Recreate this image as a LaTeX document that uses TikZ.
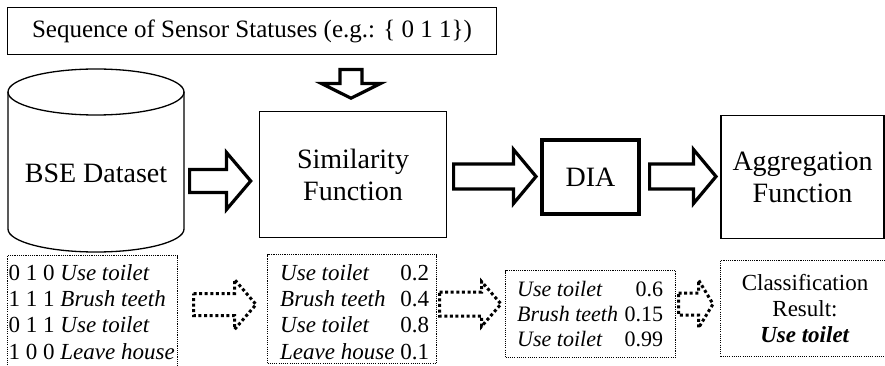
\documentclass[tikz,border=0pt]{standalone}
\usepackage{fontspec}
\setmainfont{Liberation Serif}
\newcommand{\barrR}[7]{% style, x0, xs, x1, c, hs, hh
  \draw[#1] (#2,#5-#6) -- (#3,#5-#6) -- (#3,#5-#7) -- (#4,#5) -- (#3,#5+#7) -- (#3,#5+#6) -- (#2,#5+#6) -- cycle;}
\begin{document}
\begin{tikzpicture}[x=1pt,y=-1pt,
  plain/.style={draw, line width=1.3pt, inner sep=0pt},
  thickbox/.style={draw, line width=4pt, inner sep=0pt},
  dotbox/.style={draw, line width=1.1pt, dash pattern=on 1.1pt off 1.1pt, inner sep=0pt},
  blockarr/.style={draw, line width=3.2pt, line join=miter, miter limit=10},
  dotarr/.style={draw, line width=3pt, dash pattern=on 3pt off 2.6pt},
  big/.style={font=\fontsize{28}{32}\selectfont, align=center},
  small/.style={inner sep=0pt, font=\fontsize{23}{26.3}\selectfont},
]
\useasboundingbox (0,0) rectangle (885,366);

% top box
\node[plain, minimum width=489pt, minimum height=47pt, font=\fontsize{25}{30}\selectfont] (seq) at (252,31) {Sequence of Sensor Statuses (e.g.: \{ 0 1 1\})};

% down arrow
\draw[blockarr] (351-11,69.6) -- (351+11,69.6) -- (351+11,83.5) -- (351+29.5,83.5) -- (351,98.2) -- (351-29.5,83.5) -- (351-11,83.5) -- cycle;

% cylinder
\draw[line width=1.3pt] (96,92) ellipse [x radius=88, y radius=23];
\draw[line width=1.3pt] (8,92) -- (8,229) arc[start angle=180, end angle=0, x radius=88, y radius=23] -- (184,92);
\node[big, inner sep=0pt] (bse) at (96,173) {BSE Dataset};

% main boxes
\node[plain, big, minimum width=186.7pt, minimum height=125.7pt] (sim) at (353,174.5) {Similarity\\Function};
\node[thickbox, big, minimum width=97pt, minimum height=74pt] (dia) at (590.5,177) {DIA};
\node[plain, big, minimum width=163pt, minimum height=123pt] (agg) at (802.5,177) {Aggregation\\Function};

% solid block arrows
\barrR{blockarr}{189.6}{226.5}{250.7}{181}{11.5}{28.5}
\barrR{blockarr}{453.6}{513.5}{536}{176.5}{12.5}{27}
\barrR{blockarr}{649.6}{693.5}{716}{176.5}{12.5}{27}

% dotted boxes
\node[dotbox, minimum width=170pt, minimum height=119pt] (b1) at (92.5,315) {};
\node[dotbox, minimum width=169pt, minimum height=109pt] (b2) at (352,309) {};
\node[dotbox, minimum width=170pt, minimum height=87pt] (b3) at (590.5,314) {};
\node[dotbox, minimum width=174pt, minimum height=96pt] (b4) at (807.5,308.5) {};

% dotted block arrows
\barrR{dotarr}{193.5}{234.5}{256}{304.5}{11}{25}
\barrR{dotarr}{439.5}{481.5}{501}{304}{12}{22.5}
\barrR{dotarr}{678.5}{698.5}{713}{304}{11}{24}

% texts in dotted boxes
\node[small, anchor=west] (t1) at (8.5,314.5) {\begin{tabular}{@{}l@{}}
0 1 0 \textit{Use toilet}\\
1 1 1 \textit{Brush teeth}\\
0 1 1 \textit{Use toilet}\\
1 0 0 \textit{Leave house}\end{tabular}};
\node[small, anchor=west] (t2) at (280,314.5) {\begin{tabular}{@{}l@{\hspace{0.25em}}l@{}}
\textit{Use toilet} & 0.2\\
\textit{Brush teeth} & 0.4\\
\textit{Use toilet} & 0.8\\
\textit{Leave house} & 0.1\end{tabular}};
\node[inner sep=0pt, font=\fontsize{22}{25}\selectfont, anchor=west] (t3) at (517,316.5) {\begin{tabular}{@{}l@{\hspace{0.3em}}r@{}}
\textit{Use toilet} & 0.6\\
\textit{Brush teeth} & 0.15\\
\textit{Use toilet} & 0.99\end{tabular}};
\node[small, align=center, font=\fontsize{23}{26}\selectfont] (t4) at (805,309) {Classification\\Result:\\\textbf{\textit{Use toilet}}};
\end{tikzpicture}
\end{document}
